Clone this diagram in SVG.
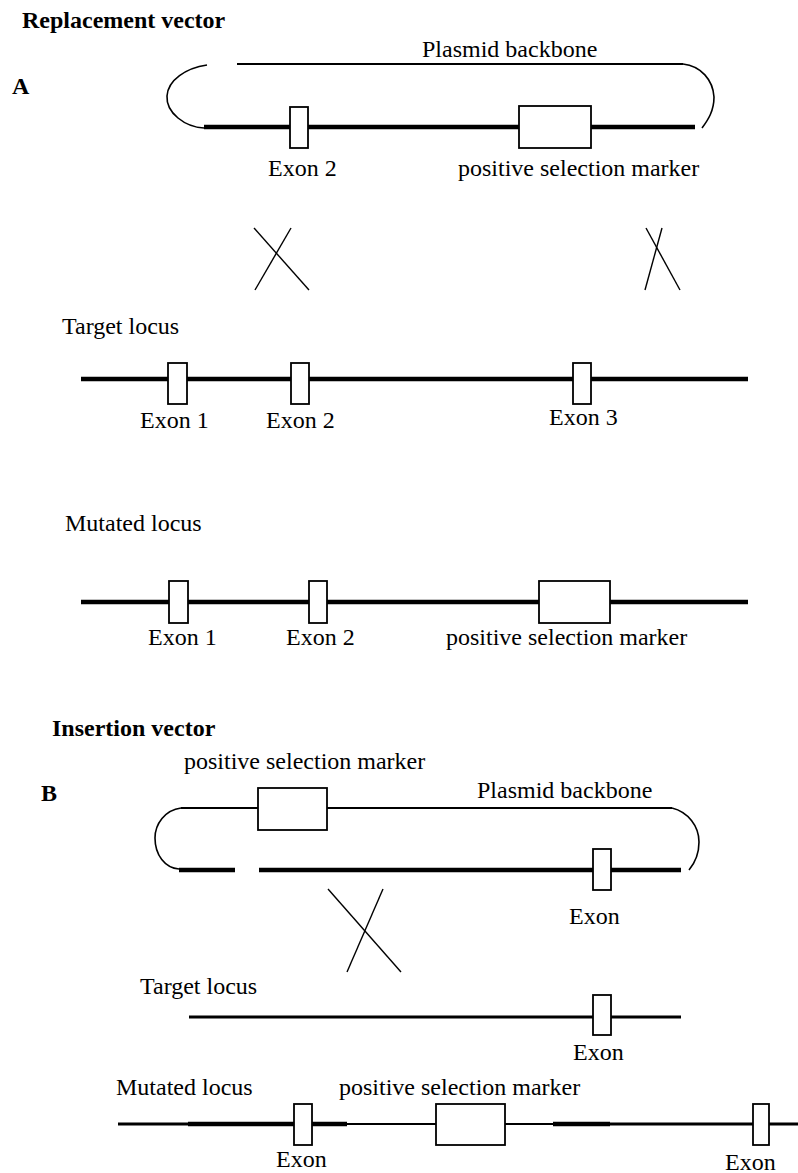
<svg xmlns="http://www.w3.org/2000/svg" width="798" height="1173" viewBox="0 0 798 1173">
<style>
text{font-family:"Liberation Serif","Times New Roman",serif;font-size:24px;fill:#000}
.h{font-weight:bold}
.thick{stroke:#000;stroke-width:4.5;fill:none}
.med{stroke:#000;stroke-width:3;fill:none}
.thin{stroke:#000;stroke-width:1.8;fill:none}
.arc{stroke:#000;stroke-width:1.6;fill:none}
.cross{stroke:#000;stroke-width:1.4;fill:none}
.box{fill:#fff;stroke:#000;stroke-width:1.8}
</style>
<rect width="798" height="1173" fill="#fff"/>

<text class="h" x="22" y="28">Replacement vector</text>
<text class="h" x="12" y="94">A</text>
<text class="h" x="52" y="736">Insertion vector</text>
<text class="h" x="41" y="801">B</text>

<g id="connectors">
  <!-- A: replacement vector -->
  <line class="thin" x1="237" y1="64" x2="683" y2="64"/>
  <path class="arc" d="M207,65 C186,68 168,80 167,96 C166,113 185,127 204,128"/>
  <path class="arc" d="M683,64 C701,66 713,80 714,97 C714,111 708,120 702,128"/>
  <line class="thick" x1="204" y1="127" x2="695" y2="127"/>
  <line class="cross" x1="254" y1="228" x2="309" y2="290"/>
  <line class="cross" x1="291" y1="228" x2="255" y2="290"/>
  <line class="cross" x1="646" y1="228" x2="680" y2="290"/>
  <line class="cross" x1="662" y1="228" x2="645" y2="290"/>
  <!-- A: target locus -->
  <line class="thick" x1="81" y1="379" x2="748" y2="379"/>
  <!-- A: mutated locus -->
  <line class="thick" x1="81" y1="602" x2="748" y2="602"/>
  <!-- B: insertion vector -->
  <line class="thin" x1="181" y1="808" x2="672" y2="808"/>
  <path class="arc" d="M181,808 C165,810 155,824 155,838 C155,855 165,868 179,869"/>
  <path class="arc" d="M672,808 C688,812 699,826 699,842 C699,855 694,864 689,870"/>
  <line class="thick" x1="179" y1="870" x2="235" y2="870"/>
  <line class="thick" x1="259" y1="870" x2="681" y2="870"/>
  <line class="cross" x1="328" y1="889" x2="401" y2="972"/>
  <line class="cross" x1="383" y1="889" x2="347" y2="972"/>
  <!-- B: target locus -->
  <line class="med" x1="189" y1="1017" x2="681" y2="1017"/>
  <!-- B: mutated locus -->
  <line class="med" x1="118" y1="1124" x2="189" y2="1124"/>
  <line class="thick" x1="188" y1="1124" x2="347" y2="1124"/>
  <line class="thin" x1="346" y1="1124" x2="436" y2="1124"/>
  <line class="thin" x1="505" y1="1124" x2="554" y2="1124"/>
  <line class="thick" x1="553" y1="1124" x2="610" y2="1124"/>
  <line class="med" x1="609" y1="1124" x2="798" y2="1124"/>
</g>

<g id="A-vector">
  <text x="422" y="57">Plasmid backbone</text>
  <g id="A-vec-exon2"><rect class="box" x="290" y="107" width="18" height="41"/><text x="268" y="176">Exon 2</text></g>
  <g id="A-vec-marker"><rect class="box" x="519" y="106" width="72" height="42"/><text x="458" y="176">positive selection marker</text></g>
</g>

<g id="A-target">
  <text x="62" y="334">Target locus</text>
  <g id="A-t-exon1"><rect class="box" x="168" y="363" width="19" height="41"/><text x="140" y="428">Exon 1</text></g>
  <g id="A-t-exon2"><rect class="box" x="291" y="363" width="18" height="41"/><text x="266" y="428">Exon 2</text></g>
  <g id="A-t-exon3"><rect class="box" x="573" y="363" width="18" height="41"/><text x="549" y="425">Exon 3</text></g>
</g>

<g id="A-mutated">
  <text x="65" y="531">Mutated locus</text>
  <g id="A-m-exon1"><rect class="box" x="169" y="581" width="19" height="42"/><text x="148" y="645">Exon 1</text></g>
  <g id="A-m-exon2"><rect class="box" x="309" y="581" width="18" height="42"/><text x="286" y="645">Exon 2</text></g>
  <g id="A-m-marker"><rect class="box" x="539" y="581" width="71" height="42"/><text x="446" y="645">positive selection marker</text></g>
</g>

<g id="B-vector">
  <text x="477" y="798">Plasmid backbone</text>
  <g id="B-vec-marker"><rect class="box" x="258" y="788" width="69" height="42"/><text x="184" y="769">positive selection marker</text></g>
  <g id="B-vec-exon"><rect class="box" x="593" y="849" width="18" height="41"/><text x="569" y="924">Exon</text></g>
</g>

<g id="B-target">
  <text x="140" y="994">Target locus</text>
  <g id="B-t-exon"><rect class="box" x="593" y="995" width="18" height="40"/><text x="573" y="1060">Exon</text></g>
</g>

<g id="B-mutated">
  <text x="116" y="1095">Mutated locus</text>
  <g id="B-m-exon1"><rect class="box" x="294" y="1104" width="18" height="41"/><text x="276" y="1167">Exon</text></g>
  <g id="B-m-marker"><rect class="box" x="436" y="1104" width="69" height="41"/><text x="339" y="1095">positive selection marker</text></g>
  <g id="B-m-exon2"><rect class="box" x="753" y="1104" width="16" height="41"/><text x="725" y="1170">Exon</text></g>
</g>
</svg>
